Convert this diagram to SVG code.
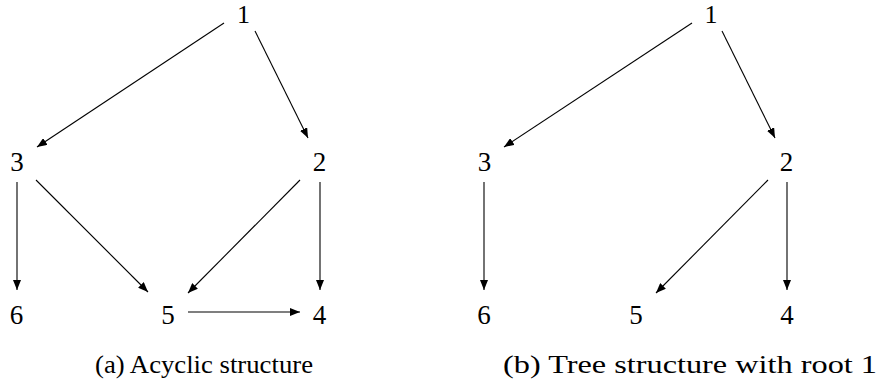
<svg xmlns="http://www.w3.org/2000/svg" width="883" height="388" viewBox="0 0 883 388">
<defs>
<marker id="ah" viewBox="0 0 10 8" refX="10" refY="4" markerWidth="10" markerHeight="8" markerUnits="userSpaceOnUse" orient="auto">
<path d="M0,0 L10,4 L0,8 Z" fill="#000"/>
</marker>
</defs>
<style>
.lbl{font-family:"Liberation Serif","Times New Roman",serif;font-size:27px;fill:#000;text-anchor:middle}
.top{font-size:26px}
.cap{font-family:"Liberation Serif","Times New Roman",serif;font-size:26px;fill:#000}
.e{stroke:#000;stroke-width:1.1;fill:none;marker-end:url(#ah)}
</style>
<rect width="883" height="388" fill="#fff"/>
<g id="left-connectors">
<line class="e" x1="224" y1="23" x2="37" y2="147"/>
<line class="e" x1="255" y1="31" x2="308" y2="138"/>
<line class="e" x1="17" y1="182" x2="17" y2="290"/>
<line class="e" x1="36" y1="180" x2="148" y2="292"/>
<line class="e" x1="300" y1="180" x2="188" y2="293"/>
<line class="e" x1="320" y1="182" x2="320" y2="290"/>
<line class="e" x1="188" y1="312" x2="300" y2="312"/>
</g>
<g id="a1"><text class="lbl top" x="243.5" y="23">1</text></g>
<g id="a3"><text class="lbl" x="17" y="171">3</text></g>
<g id="a2"><text class="lbl" x="319.5" y="171">2</text></g>
<g id="a6"><text class="lbl" x="16.5" y="324">6</text></g>
<g id="a5"><text class="lbl" x="168" y="324">5</text></g>
<g id="a4"><text class="lbl" x="319.5" y="324">4</text></g>
<text class="cap" x="95" y="373" textLength="218" lengthAdjust="spacingAndGlyphs">(a) Acyclic structure</text>
<g id="right-connectors">
<line class="e" x1="692" y1="23" x2="504" y2="147"/>
<line class="e" x1="722" y1="31" x2="775" y2="138"/>
<line class="e" x1="484" y1="182" x2="484" y2="290"/>
<line class="e" x1="768" y1="180" x2="656" y2="293"/>
<line class="e" x1="787" y1="182" x2="787" y2="290"/>
</g>
<g id="b1"><text class="lbl top" x="711" y="23">1</text></g>
<g id="b3"><text class="lbl" x="484.5" y="171">3</text></g>
<g id="b2"><text class="lbl" x="786.5" y="171">2</text></g>
<g id="b6"><text class="lbl" x="484" y="324">6</text></g>
<g id="b5"><text class="lbl" x="636" y="324">5</text></g>
<g id="b4"><text class="lbl" x="787" y="324">4</text></g>
<text class="cap" x="503" y="373" textLength="374" lengthAdjust="spacingAndGlyphs">(b) Tree structure with root 1</text>
</svg>
